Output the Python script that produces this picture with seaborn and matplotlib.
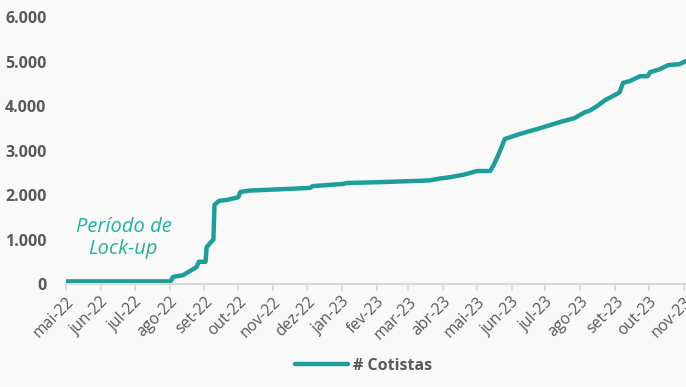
import matplotlib
matplotlib.use("Agg")
import matplotlib.pyplot as plt
import matplotlib.dates as mdates
from matplotlib.ticker import FuncFormatter
import pandas as pd
import seaborn as sns

# Number of fund shareholders over time
dates = [
    "2022-05-01", "2022-08-02", "2022-08-04", "2022-08-13", "2022-08-19",
    "2022-08-25", "2022-08-27", "2022-09-02", "2022-09-03", "2022-09-06",
    "2022-09-09", "2022-09-10", "2022-09-14", "2022-09-21", "2022-10-01",
    "2022-10-03", "2022-10-11", "2022-10-29", "2022-12-04", "2022-12-06",
    "2023-01-02", "2023-01-05", "2023-02-04", "2023-03-11", "2023-03-20",
    "2023-03-29", "2023-04-07", "2023-04-20", "2023-05-01", "2023-05-13",
    "2023-05-17", "2023-05-22", "2023-05-26", "2023-06-08", "2023-06-26",
    "2023-07-14", "2023-07-27", "2023-08-05", "2023-08-09", "2023-08-16",
    "2023-08-23", "2023-09-01", "2023-09-05", "2023-09-08", "2023-09-14",
    "2023-09-23", "2023-09-30", "2023-10-02", "2023-10-11", "2023-10-18",
    "2023-10-28", "2023-11-03",
]
cotistas = [
    60, 60, 160, 200, 290,
    380, 500, 500, 830, 920,
    1000, 1780, 1870, 1890, 1950,
    2070, 2100, 2120, 2160, 2200,
    2250, 2270, 2290, 2320, 2330,
    2370, 2400, 2460, 2540, 2540,
    2720, 3010, 3260, 3370, 3500,
    3640, 3730, 3860, 3890, 4000,
    4130, 4250, 4310, 4520, 4560,
    4670, 4670, 4760, 4830, 4920,
    4940, 5010,
]
month_labels = ["jan", "fev", "mar", "abr", "mai", "jun",
                "jul", "ago", "set", "out", "nov", "dez"]
series_name = "# Cotistas"
note_text = "Período de\nLock-up"

df = pd.DataFrame({"data": pd.to_datetime(dates), series_name: cotistas})

sns.set_theme(style="white")
plt.rcParams["font.family"] = ["Open Sans", "DejaVu Sans"]

bg = "#f9f9f9"
teal = "#1d9e9b"
grey = "#595959"

fig = plt.figure(figsize=(6.86, 3.87), dpi=100, facecolor=bg)
ax = fig.add_axes([0.0962, 0.266, 0.9038, 0.69])
ax.set_facecolor(bg)

sns.lineplot(data=df, x="data", y=series_name, ax=ax, color=teal,
             linewidth=3.2, label=series_name)

ax.set_xlim(pd.Timestamp("2022-05-01"), pd.Timestamp("2023-11-03"))
ax.set_ylim(0, 6000)
ax.set_yticks(range(0, 6001, 1000))
ax.yaxis.set_major_formatter(FuncFormatter(lambda v, p: f"{int(v):,}".replace(",", ".")))
ax.xaxis.set_major_locator(mdates.MonthLocator())
ax.xaxis.set_major_formatter(FuncFormatter(
    lambda v, p: f"{month_labels[mdates.num2date(v).month - 1]}-{mdates.num2date(v).year % 100:02d}"))

ax.set_xlabel("")
ax.set_ylabel("")
for side in ["top", "right", "left"]:
    ax.spines[side].set_visible(False)
ax.spines["bottom"].set_color("#d9d9d9")
ax.spines["bottom"].set_linewidth(1.5)

ax.tick_params(axis="x", which="major", bottom=True, length=5, width=1.2,
               color="#d9d9d9", labelsize=11.3, labelcolor=grey, pad=2)
ax.tick_params(axis="y", left=False, labelsize=11.5, labelcolor=grey, pad=8)
for lbl in ax.get_xticklabels():
    lbl.set_rotation(45)
    lbl.set_ha("right")
    lbl.set_rotation_mode("anchor")
for lbl in ax.get_yticklabels():
    lbl.set_fontweight("bold")

ax.text(pd.Timestamp("2022-06-21"), 1030, note_text, ha="center", va="center",
        fontsize=14.5, style="italic", color="#1fb39a", linespacing=1.15)

leg = ax.legend(loc="lower center", bbox_to_anchor=(0.48, -0.39), frameon=False,
                handlelength=3.3, prop={"weight": "bold", "size": 11.5},
                handletextpad=0.3)
for t in leg.get_texts():
    t.set_color(grey)
for h in leg.get_lines():
    h.set_linewidth(3.2)

fig.savefig("out.png", dpi=100, facecolor=bg)
